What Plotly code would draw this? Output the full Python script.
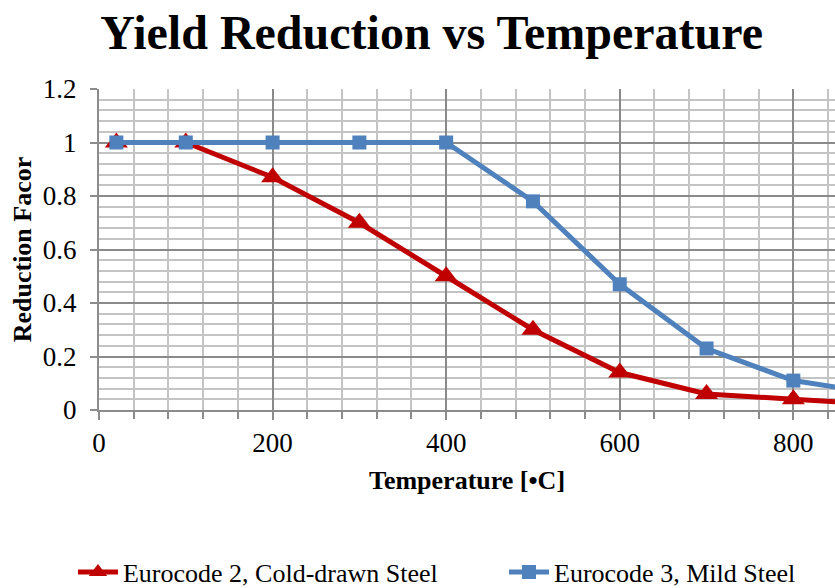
import plotly.graph_objects as go

temps_ec2 = [20, 100, 200, 300, 400, 500, 600, 700, 800, 900, 1000]
ec2_cold_drawn = [1.0, 1.0, 0.87, 0.70, 0.50, 0.30, 0.14, 0.06, 0.04, 0.02, 0.0]

temps_ec3 = [20, 100, 200, 300, 400, 500, 600, 700, 800, 900, 1000]
ec3_mild = [1.0, 1.0, 1.0, 1.0, 1.0, 0.78, 0.47, 0.23, 0.11, 0.06, 0.04]

x_ticks = [0, 200, 400, 600, 800]
y_ticks = [0, 0.2, 0.4, 0.6, 0.8, 1, 1.2]
y_tick_labels = ["0", "0.2", "0.4", "0.6", "0.8", "1", "1.2"]

serif = "Liberation Serif, Times New Roman, serif"

fig = go.Figure()
fig.add_trace(go.Scatter(
    x=temps_ec2, y=ec2_cold_drawn, mode="lines+markers",
    name="Eurocode 2, Cold-drawn Steel",
    line=dict(color="#C00000", width=5),
    marker=dict(symbol="triangle-up", size=20, color="#C00000"),
    legend="legend",
))
fig.add_trace(go.Scatter(
    x=temps_ec3, y=ec3_mild, mode="lines+markers",
    name="Eurocode 3, Mild Steel",
    line=dict(color="#4F81BD", width=5),
    marker=dict(symbol="square", size=14, color="#4F81BD"),
    legend="legend2",
))

leg_common = dict(orientation="h", xref="container", yref="container",
                  xanchor="left", y=0.027, yanchor="middle",
                  font=dict(family=serif, size=26), itemwidth=40,
                  bgcolor="rgba(0,0,0,0)")

fig.update_layout(
    width=835, height=588,
    margin=dict(l=99, r=0, t=89, b=178),
    paper_bgcolor="white", plot_bgcolor="white",
    font=dict(family=serif, size=27, color="black"),
    title=dict(text="<b>Yield Reduction vs Temperature</b>",
               font=dict(family=serif, size=48, color="black"),
               x=0.517, xanchor="center", xref="container",
               y=0.945, yanchor="middle", yref="container"),
    showlegend=True,
    legend=dict(x=0.0874, **leg_common),
    legend2=dict(x=0.6036, **leg_common),
)

fig.update_xaxes(
    range=[0, 848], tickvals=x_ticks, ticktext=[str(t) for t in x_ticks],
    showline=True, linecolor="#8c8c8c", linewidth=2,
    ticks="outside", ticklen=8, tickcolor="#8c8c8c", tickwidth=2,
    showgrid=True, gridcolor="#8a8a8a", gridwidth=2,
    minor=dict(dtick=40, tick0=0, showgrid=True, gridcolor="#c4c4c4", gridwidth=2,
               ticks="outside", ticklen=7, tickcolor="#8c8c8c", tickwidth=2),
    tickfont=dict(family=serif, size=27),
    zeroline=False,
    title=dict(text="<b>Temperature [•C]</b>", font=dict(family=serif, size=26), standoff=13),
)
fig.update_yaxes(
    range=[0, 1.2], tickvals=y_ticks, ticktext=y_tick_labels,
    showline=True, linecolor="#8c8c8c", linewidth=2,
    ticks="outside", ticklen=7, tickcolor="#8c8c8c", tickwidth=2,
    showgrid=True, gridcolor="#8a8a8a", gridwidth=2,
    minor=dict(dtick=0.04, tick0=0, showgrid=True, gridcolor="#c4c4c4", gridwidth=2),
    tickfont=dict(family=serif, size=27),
    ticklabelstandoff=8,
    zeroline=False,
    title=dict(text="<b>Reduction Facor</b>", font=dict(family=serif, size=26), standoff=4),
)

fig.write_html("out.html")
